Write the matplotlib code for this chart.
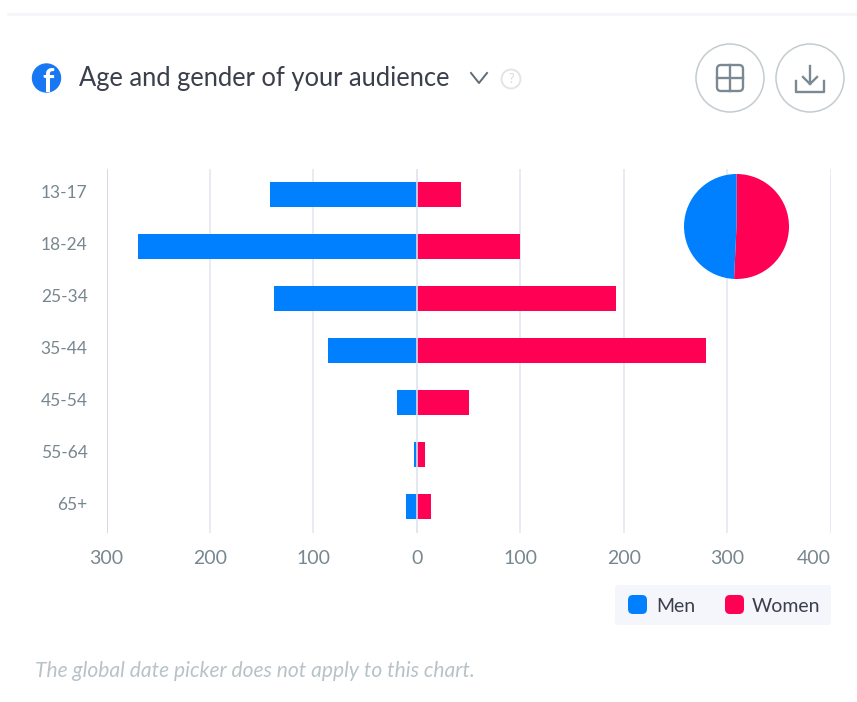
import matplotlib
matplotlib.use("Agg")
import matplotlib.pyplot as plt
from matplotlib.patches import Circle, FancyBboxPatch
from matplotlib.transforms import ScaledTranslation

plt.rcParams['font.family'] = ['Lato', 'DejaVu Sans']

# data
age_groups = ["13-17", "18-24", "25-34", "35-44", "45-54", "55-64", "65+"]
men = [142, 270, 138, 86, 19, 3, 10]
women = [43, 100, 193, 280, 50, 8, 14]
x_ticks = [-300, -200, -100, 0, 100, 200, 300, 400]
x_tick_labels = ["300", "200", "100", "0", "100", "200", "300", "400"]

BLUE = "#0080ff"
RED = "#ff0055"
GRID = "#e2e6f0"
TICK = "#78878f"
DARK = "#3a3f4b"
W, H = 857, 702

fig = plt.figure(figsize=(W / 100, H / 100), dpi=100, facecolor="white")

# overlay in pixel coords for the page furniture around the chart
page = fig.add_axes([0, 0, 1, 1], zorder=0)
page.set_xlim(0, W)
page.set_ylim(H, 0)
page.axis("off")


def px_axes(left, top, right, bottom, **kw):
    return fig.add_axes([left / W, 1 - bottom / H, (right - left) / W, (bottom - top) / H], **kw)


ax = px_axes(106.5, 168.5, 830.5, 532.5, zorder=1)
ax.patch.set_alpha(0)
ax.barh(age_groups, [-m for m in men], height=0.48, color=BLUE, zorder=2)
ax.barh(age_groups, women, height=0.48, color=RED, zorder=2)
ax.set_xlim(-300, 400)
ax.set_ylim(6.5, -0.5)
ax.set_xticks(x_ticks)
ax.set_xticklabels(x_tick_labels, fontsize=14, color=TICK)
ax.tick_params(axis="x", length=0, labelsize=14, labelcolor=TICK, pad=12.5)
ax.tick_params(axis="y", length=0, labelsize=12.5, labelcolor=TICK, pad=13.5)
ax.grid(axis="x", color=GRID, linewidth=1.1)
ax.set_axisbelow(True)
for s in ax.spines.values():
    s.set_visible(False)
ax.axvline(-300, color="#d3d9ea", linewidth=1.4, zorder=3)
ax.axvline(0, color=GRID, linewidth=1.1, zorder=3)

# y labels sit a little above the bar centres
for lab in ax.get_yticklabels():
    lab.set_transform(lab.get_transform() + ScaledTranslation(0, 3.5 / 100, fig.dpi_scale_trans))
# the last x label is pulled in to stay inside the plot
ax.get_xticklabels()[-1].set_ha("right")

# share pie
pie_ax = px_axes(684, 174, 789, 279, zorder=4)
pie_ax.pie([sum(women), sum(men)], colors=[RED, BLUE], startangle=90, counterclock=False, radius=1)
pie_ax.set_xlim(-1, 1)
pie_ax.set_ylim(-1, 1)

# top divider
page.plot([8, W], [14, 14], color="#f4f6f9", linewidth=2)

# header
fb = Circle((46.5, 78), 14, color="#1877f2")
page.add_patch(fb)
f_mark = page.text(48, 83, "f", color="white", fontsize=23, fontweight="bold", ha="center", va="center")
f_mark.set_clip_path(fb)
page.text(79.5, 78.5, "Age and gender of your audience", fontsize=18.4, color=DARK, va="center", ha="left")
page.plot([471, 479, 487], [73, 83, 73], color="#5f6b75", linewidth=1.4)
page.add_patch(Circle((511, 79), 9.5, fill=False, ec="#e2e5e8", lw=1.4))
page.text(511, 79, "?", fontsize=9, color="#d5d9dc", ha="center", va="center")

# buttons
page.add_patch(Circle((730, 78), 34, fill=False, ec="#c3ccd1", lw=1.1))
page.add_patch(Circle((810, 78), 34, fill=False, ec="#c3ccd1", lw=1.1))
page.add_patch(FancyBboxPatch((717, 65), 26, 26, boxstyle="round,pad=0,rounding_size=4", fill=False, ec="#7b8a92", lw=1.7))
page.plot([730, 730], [65, 91], color="#7b8a92", linewidth=1.7)
page.plot([717, 743], [78, 78], color="#7b8a92", linewidth=1.7)
page.plot([810, 810], [66, 84], color="#7b8a92", linewidth=1.7)
page.plot([803, 810, 817], [77, 84, 77], color="#7b8a92", linewidth=1.7)
page.plot([796, 796, 824, 824], [81, 92, 92, 81], color="#7b8a92", linewidth=1.7)

# legend box
page.add_patch(FancyBboxPatch((615, 585), 216, 40, boxstyle="round,pad=0,rounding_size=3", fc="#f4f6fb", ec="none"))
page.add_patch(FancyBboxPatch((628, 595), 19, 19, boxstyle="round,pad=0,rounding_size=5", fc=BLUE, ec="none"))
page.add_patch(FancyBboxPatch((725, 595), 19, 19, boxstyle="round,pad=0,rounding_size=5", fc=RED, ec="none"))
page.text(656, 606, "Men", fontsize=14, color=DARK, va="center")
page.text(752, 606, "Women", fontsize=14, color=DARK, va="center")

# footnote
page.text(35, 671, "The global date picker does not apply to this chart.", fontsize=15.1, style="italic",
          color="#b9c2c7", va="center")

fig.savefig("out.png", dpi=100, facecolor="white")
